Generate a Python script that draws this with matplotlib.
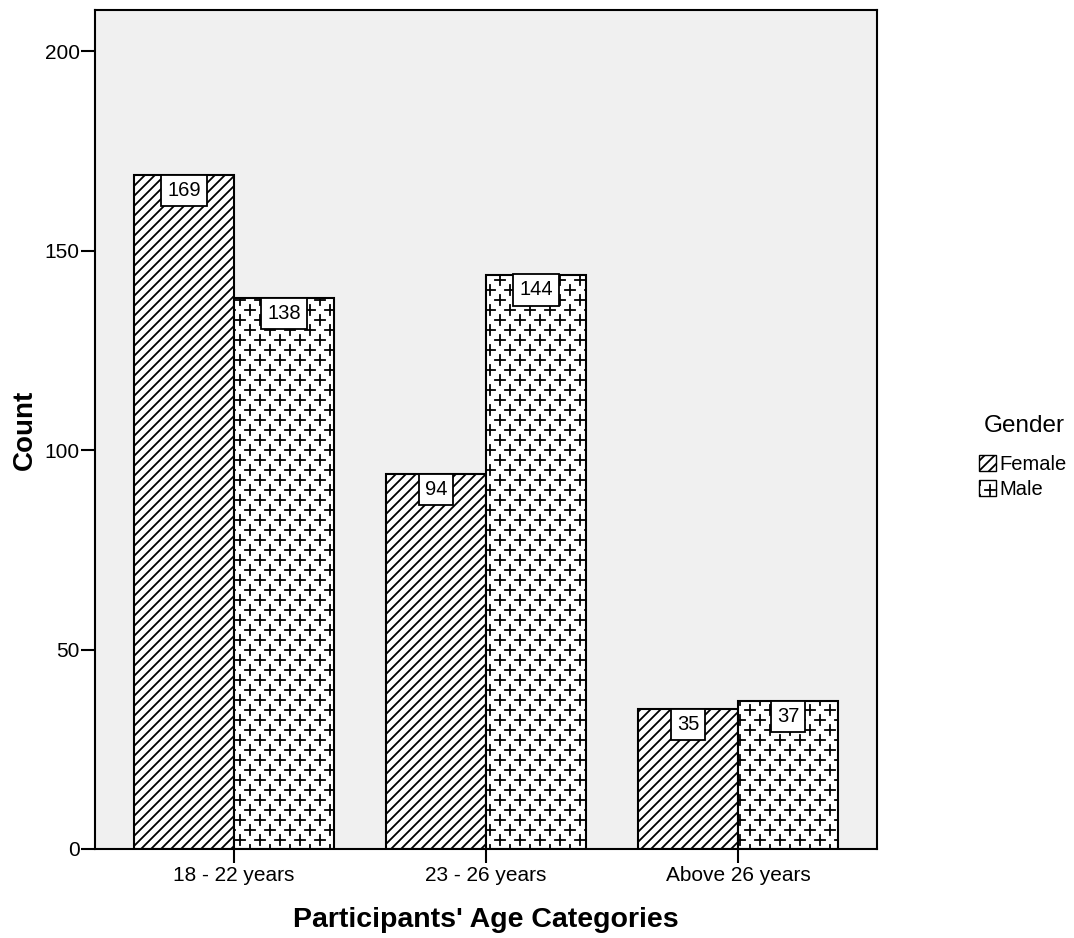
import matplotlib
matplotlib.use("Agg")
import matplotlib.pyplot as plt
import numpy as np
from matplotlib import hatch as mhatch
from matplotlib.path import Path
from matplotlib.patches import Patch

plt.rcParams['font.family'] = ['Liberation Sans', 'DejaVu Sans']
plt.rcParams['hatch.linewidth'] = 1.3

# data
categories = ['18 - 22 years', '23 - 26 years', 'Above 26 years']
female = [169, 94, 35]
male = [138, 144, 37]


# SPSS-like hatches: finer diagonals ('/') and staggered plus signs ('*')
class DiagHatch(mhatch.NorthEastHatch):
    def __init__(self, hatch, density):
        self.num_lines = int(hatch.count('/') * 20)
        self.num_vertices = (self.num_lines + 1) * 2 if self.num_lines else 0


class PlusHatch(mhatch.HatchPatternBase):
    cols = 5
    rows = 10
    arm = 0.05

    def __init__(self, hatch, density):
        self.on = '*' in hatch
        centers = []
        if self.on:
            for i in range(self.rows + 1):
                y = i / self.rows
                if i % 2 == 0:
                    xs = np.arange(self.cols + 1) / self.cols
                else:
                    xs = (np.arange(self.cols) + 0.5) / self.cols
                centers += [(xx, y) for xx in xs]
        self.centers = np.array(centers)
        self.num_vertices = len(centers) * 4

    def set_vertices_and_codes(self, vertices, codes):
        a = self.arm
        for k, (cx, cy) in enumerate(self.centers):
            vertices[4 * k:4 * k + 4] = [(cx - a, cy), (cx + a, cy), (cx, cy - a), (cx, cy + a)]
            codes[4 * k:4 * k + 4] = [Path.MOVETO, Path.LINETO, Path.MOVETO, Path.LINETO]


mhatch._hatch_types = [h for h in mhatch._hatch_types
                       if h not in (mhatch.Stars, mhatch.NorthEastHatch)]
mhatch._hatch_types += [DiagHatch, PlusHatch]

fig = plt.figure(figsize=(10.74, 9.38), dpi=100)
ax = fig.add_axes([0.0885, 0.0949, 0.7281, 0.8944])
ax.set_facecolor('#f0f0f0')

x = np.arange(len(categories))
w = 0.397
b1 = ax.bar(x - w / 2, female, w, color='white', edgecolor='black', hatch='/', linewidth=1.5)
b2 = ax.bar(x + w / 2, male, w, color='white', edgecolor='black', hatch='*', linewidth=1.5)

for bars, vals in [(b1, female), (b2, male)]:
    for r, v in zip(bars, vals):
        ax.annotate(str(v), (r.get_x() + r.get_width() / 2, v), xytext=(0, -4.3),
                    textcoords='offset points', ha='center', va='top', fontsize=14.5,
                    bbox=dict(boxstyle='square,pad=0.3', fc='white', ec='black', lw=1.3))

ax.set_xlim(-0.552, 2.552)
ax.set_ylim(0, 210.3)
ax.set_yticks([0, 50, 100, 150, 200])
ax.set_xticks(x)
ax.set_xticklabels(categories)
ax.tick_params(axis='both', labelsize=15, length=10, width=1.5, direction='out')
ax.tick_params(axis='y', pad=1)
ax.tick_params(axis='x', pad=2)
for s in ax.spines.values():
    s.set_linewidth(1.5)

ax.set_ylabel('Count', fontsize=20, fontweight='bold', labelpad=5)
ax.set_xlabel("Participants' Age Categories", fontsize=20.5, fontweight='bold', labelpad=16)

handles = [Patch(facecolor='white', edgecolor='black', hatch='/', label='Female'),
           Patch(facecolor='white', edgecolor='black', hatch='*', label='Male')]
fig.text(1024 / 1074, 1 - 426 / 938, 'Gender', ha='center', va='center', fontsize=17.5)
ax.legend(handles=handles, loc='center left', bbox_to_anchor=(1.117, 0.443),
          frameon=False, fontsize=14.5, handlelength=0.85, handleheight=0.85,
          handletextpad=0.2, labelspacing=0.3, borderpad=0)

fig.savefig('out.png', dpi=100)
